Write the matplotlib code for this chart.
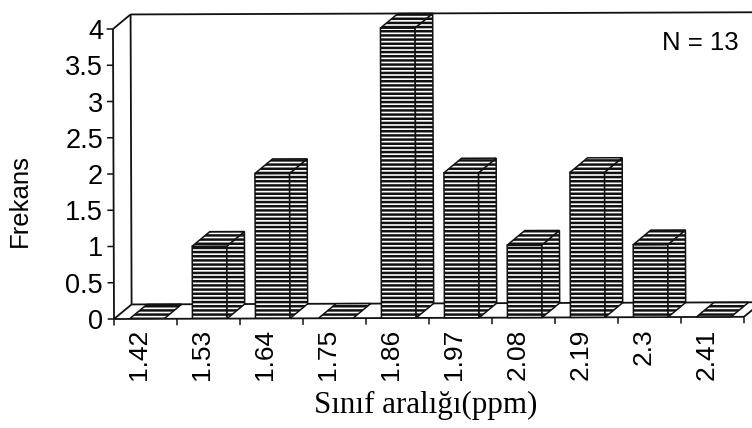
import matplotlib
matplotlib.use("Agg")
import matplotlib.pyplot as plt
from matplotlib.patches import Polygon
from matplotlib.transforms import Affine2D

plt.rcParams["font.family"] = ["Liberation Sans", "DejaVu Sans"]
plt.rcParams["hatch.linewidth"] = 1.8

# Values
categories = ["1.42", "1.53", "1.64", "1.75", "1.86", "1.97", "2.08", "2.19", "2.3", "2.41"]
frequency = [0, 1, 2, 0, 4, 2, 1, 2, 1, 0]
y_ticks = [0, 0.5, 1, 1.5, 2, 2.5, 3, 3.5, 4]
y_labels = ["0", "0.5", "1", "1.5", "2", "2.5", "3", "3.5", "4"]

# 3D look
depth_x = 0.28
depth_y = 0.2
bar_width = 0.55
ink = "#111111"

fig = plt.figure(figsize=(7.52, 4.28), dpi=100)
ax = fig.add_axes([114 / 752, (428 - 319) / 428, 638 / 752, 319 / 428])
ax.set_xlim(0, 638 / 63.0)
ax.set_ylim(0, 319 / 72.5)
for side in ax.spines.values():
    side.set_visible(False)

# the scan is a little bit crooked
tilted = ax.transData + Affine2D().rotate_deg_around(114, 428 - 319, 0.2)


def line(xs, ys, lw=1.3):
    ax.plot(xs, ys, color=ink, lw=lw, transform=tilted, clip_on=False, solid_capstyle="butt", zorder=2)


n = len(categories)

# Walls and floor
line([0, 0], [0, 4])
line([depth_x, depth_x], [depth_y, 4 + depth_y])
line([0, depth_x], [4, 4 + depth_y])
line([depth_x, n + depth_x], [4 + depth_y, 4 + depth_y])
line([0, depth_x], [0, depth_y])
line([depth_x, n + depth_x], [depth_y, depth_y])
line([0, n], [0, 0])
line([n, n + depth_x], [0, depth_y])

# Tick marks
for v in y_ticks:
    line([-0.1, 0], [v, v], lw=1.1)
for i in range(n + 1):
    line([i, i], [0, -0.09], lw=1.1)


def face(points):
    ax.add_patch(Polygon(points, closed=True, facecolor="white", edgecolor=ink, hatch="----",
                         lw=1.1, transform=tilted, zorder=3))


# Bars
for i, v in enumerate(frequency):
    x0 = i + 0.5 - bar_width / 2 + 0.02
    x1 = x0 + bar_width
    if v > 0:
        face([(x0, 0), (x1, 0), (x1, v), (x0, v)])
        face([(x1, 0), (x1 + depth_x, depth_y), (x1 + depth_x, v + depth_y), (x1, v)])
    face([(x0, v), (x1, v), (x1 + depth_x, v + depth_y), (x0 + depth_x, v + depth_y)])

ax.set_xticks([i + 0.4 for i in range(n)])
ax.set_xticklabels(categories, rotation=90, fontsize=19)
ax.set_yticks(y_ticks)
ax.set_yticklabels(y_labels, fontsize=19.5)
ax.tick_params(axis="x", length=0, pad=7)
ax.tick_params(axis="y", length=0, pad=8)

fig.text(20 / 752, 1 - 200 / 428, "Frekans", rotation=90, fontsize=18.5, ha="center", va="center")
fig.text(426 / 752, 1 - 405 / 428, "Sınıf aralığı(ppm)", fontsize=22.3, ha="center", va="center",
         family=["Liberation Serif", "DejaVu Serif"])
fig.text(700 / 752, 1 - 43 / 428, "N = 13", fontsize=18.5, ha="center", va="center")

fig.savefig("out.png", dpi=100)
